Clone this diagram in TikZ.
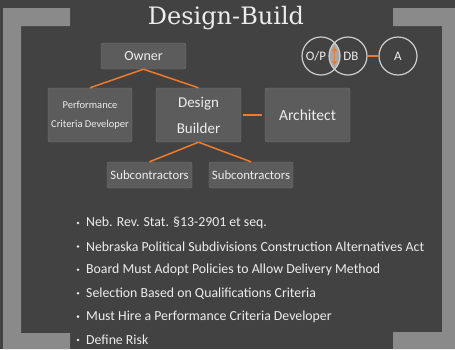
\documentclass[tikz,border=0pt]{standalone}
\usepackage{fontspec}
\usetikzlibrary{arrows.meta}
\newfontfamily\chalkfont{Carlito}
\newfontfamily\headfont{DejaVu Serif}
\definecolor{board}{HTML}{424242}
\definecolor{frame}{HTML}{8A8A8A}
\definecolor{boxfill}{HTML}{5C5C5C}
\definecolor{boxline}{HTML}{747474}
\definecolor{chalk}{HTML}{EDEDED}
\definecolor{ringline}{HTML}{CFCFCF}
\definecolor{lens}{HTML}{A8A8A8}
\definecolor{accent}{HTML}{EE7B2D}

\begin{document}
\begin{tikzpicture}[x=1pt,y=-1pt,
	box/.style={rectangle,rounded corners=2pt,fill=boxfill,draw=boxline,
	text=chalk,inner sep=1pt,align=center},
	link/.style={draw=accent,line width=1.5pt},
	ring/.style={circle,draw=ringline,line width=1.2pt,minimum size=38pt,
	inner sep=0pt,text=chalk,font=\chalkfont\fontsize{13}{14}\selectfont}]
\useasboundingbox (0,0) rectangle (455,349);
\fill[board] (0,0) rectangle (455,349);
% the two brackets
\fill[frame] (3,8) -- (70,8) -- (70,26) -- (21,26) -- (21,333) -- (70,333)
	-- (70,349) -- (3,349) -- cycle;
\fill[frame] (393,8) -- (455,8) -- (455,349) -- (393,349) -- (393,332)
	-- (442,332) -- (442,26) -- (393,26) -- cycle;

\node[text=chalk,font=\headfont\fontsize{24}{28}\selectfont] (title) at (226,18) {Design-Build};

% org chart
\node[box,minimum width=85pt,minimum height=26pt,font=\chalkfont\fontsize{14}{16}\selectfont]
	(owner) at (143.5,56) {Owner};
\node[box,minimum width=84pt,minimum height=54pt,font=\chalkfont\fontsize{10.5}{19}\selectfont]
	(pcd) at (90,115) {Performance\\Criteria Developer};
\node[box,minimum width=85pt,minimum height=54pt,font=\chalkfont\fontsize{15}{26}\selectfont]
	(builder) at (198.5,115) {Design\\Builder};
\node[box,minimum width=85pt,minimum height=54pt,font=\chalkfont\fontsize{15.5}{18}\selectfont]
	(architect) at (307.5,115) {Architect};
\node[box,minimum width=85pt,minimum height=26pt,font=\chalkfont\fontsize{12.8}{14}\selectfont]
	(subA) at (149.5,175) {Subcontractors};
\node[box,minimum width=84pt,minimum height=26pt,font=\chalkfont\fontsize{12.8}{14}\selectfont]
	(subB) at (251,175) {Subcontractors};

\draw[link] (owner.south) -- (pcd.north);
\draw[link] (owner.south) -- (builder.north);
\draw[link] (builder.south) -- (subA.north);
\draw[link] (builder.south) -- (subB.north);
\draw[link,shorten <=2pt,shorten >=3pt] (builder.east) -- (architect.west);

% relationship rings
\begin{scope}
\clip (321,56) circle (19pt);
\fill[lens] (348,56) circle (19pt);
\end{scope}
\node[ring,label={[xshift=-5pt,text=chalk,font=\chalkfont\fontsize{13}{14}\selectfont]center:O/P}]
	(op) at (321,56) {};
\node[ring,label={[xshift=3pt,text=chalk,font=\chalkfont\fontsize{13}{14}\selectfont]center:DB}]
	(dbring) at (348,56) {};
\node[ring] (aring) at (398,56) {A};
\coordinate (lenstop) at (334.5,47);
\coordinate (lensbot) at (334.5,65);
\draw[link,{Triangle[length=4pt,width=5pt]}-{Triangle[length=4pt,width=5pt]}]
	(lenstop) -- (lensbot);
\draw[link] (dbring.east) -- (aring.west);

% statute notes
\foreach \txt [count=\i] in {Neb. Rev. Stat. §13-2901 et seq.,
	Nebraska Political Subdivisions Construction Alternatives Act,
	Board Must Adopt Policies to Allow Delivery Method,
	Selection Based on Qualifications Criteria,
	Must Hire a Performance Criteria Developer,
	Define Risk}
{
	\fill[chalk] (78,{223+(\i-1)*23.4}) circle (1.4pt);
	\node[anchor=west,inner sep=0pt,text=chalk,font=\chalkfont\fontsize{13.8}{15}\selectfont]
		(note\i) at (86,{223+(\i-1)*23.4}) {\txt};
}
\end{tikzpicture}
\end{document}
